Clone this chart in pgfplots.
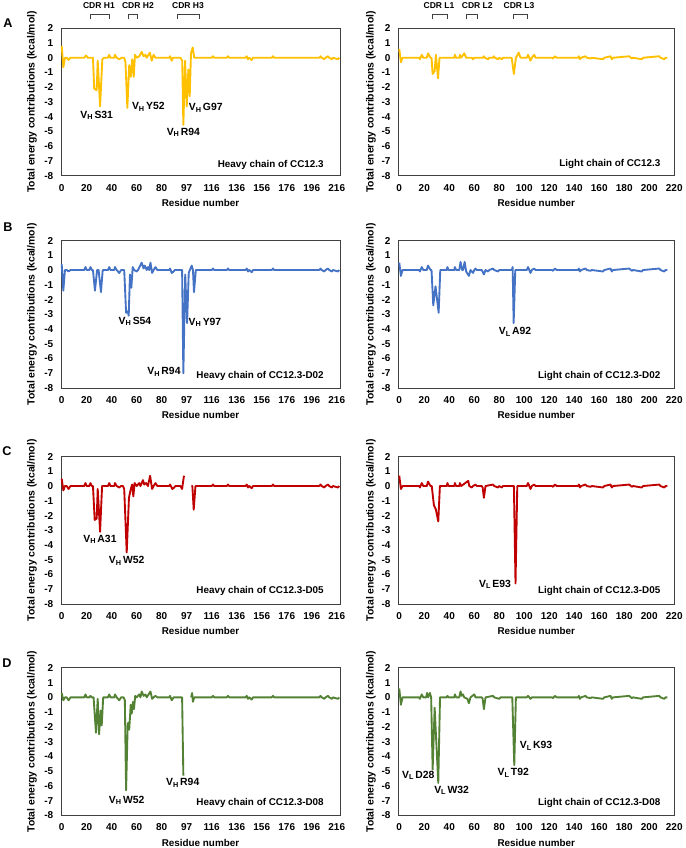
\documentclass[border=0pt]{standalone}
\usepackage{pgfplots}
\pgfplotsset{compat=1.18}
\usepackage{fontspec}
\setmainfont{Liberation Sans}
\definecolor{cy}{HTML}{FFC000}
\definecolor{cb}{HTML}{4472C4}
\definecolor{cr}{HTML}{C00000}
\definecolor{cg}{HTML}{548235}
\newcommand{\sub}[1]{\textsubscript{#1}\hspace{0.12em}}
\pgfplotsset{
 base/.style={scale only axis, height=110.6pt, ymin=-8, ymax=2,
   ytick={-8,-7,-6,-5,-4,-3,-2,-1,0,1,2},
   yticklabels={-8,-7,-6,-5,-4,-3,-2,-1,0,1,2},
   major tick length=0pt, tick style={draw=none},
   axis line style={black!75, line width=0.6pt},
   /pgf/number format/assume math mode=true,
   tick label style={font=\fontsize{7.5}{9}\selectfont\bfseries},
   xlabel={Residue number}, ylabel={Total energy contributions (kcal/mol)},
   clip=false, unbounded coords=jump,
   xticklabel style={anchor=center, yshift=-9pt},
   yticklabel style={anchor=east, xshift=-2.3pt},
   xlabel style={at={(axis description cs:0.5,-0.185)}, anchor=center, font=\fontsize{7.4}{9}\selectfont\bfseries},
   every axis plot/.append style={line width=1.4pt, line join=round, no marks},
   anchor=south west},
 heavy/.style={base, width=209.25pt, xmin=-0.56, xmax=222.6,
   xtick={0,20,40,60,80,100,120,140,160,180,200,220},
   xticklabels={0,20,40,60,80,97,116,136,156,176,196,216},
   ylabel style={at={(axis description cs:-0.104,0.5)}, anchor=center, font=\fontsize{7.8}{9}\selectfont\bfseries}},
 light/.style={base, width=207pt, xmin=-0.8, xmax=220,
   xtick={0,20,40,60,80,100,120,140,160,180,200,220},
   xticklabels={0,20,40,60,80,100,120,140,160,180,200,220},
   ylabel style={at={(axis description cs:-0.099,0.5)}, anchor=center, font=\fontsize{7.8}{9}\selectfont\bfseries}},
}
\newcommand{\htail}{(120,0) (121,0.1) (122,0) (132,0) (133,0.1) (134,0) (147,0) (148,0.1) (149,-0.1) (150,0) (152,-0.15) (153,0) (168,0) (169,0.1) (170,0) (206,0) (207,0.1) (208,0) (210,-0.1) (211,0) (213,0.1) (214,0) (216,-0.1) (217,0) (221,-0.1) (222,0)}
\newcommand{\ltail}{(122,0) (123,-0.05) (124.5,0.1) (126,0) (143,0) (143.7,0.1) (144.5,-0.1) (145.5,0) (149,0.1) (150,0) (153,-0.05) (154,0) (163,-0.1) (164,0) (169,0.1) (170,-0.1) (171,0) (184,0.1) (186,-0.05) (187,0) (194,-0.1) (195,0) (208,0.1) (209,0) (212,-0.1) (213,0) (214.5,0)}
\newcommand{\cdr}[4]{% x1 x2 textx label
 \draw[black!75, line width=0.5pt] (axis cs:#1,2.61) -- (axis cs:#1,2.95) -- (axis cs:#2,2.95) -- (axis cs:#2,2.61);
 \node[font=\fontsize{6.4}{7}\selectfont\bfseries] at (axis cs:#3,3.57) {#4};}
\tikzset{ann/.style={font=\fontsize{7.8}{9}\selectfont\bfseries}, chain/.style={anchor=east, font=\fontsize{7.4}{9}\selectfont\bfseries}}
\begin{document}
\begin{tikzpicture}[font=\fontsize{7.4}{9}\selectfont\bfseries]
\path[use as bounding box] (0,0) rectangle (513.75pt,636pt);
\node[font=\fontsize{9.5}{11}\selectfont\bfseries] at (6pt,618.75pt) {A};
\node[font=\fontsize{9.5}{11}\selectfont\bfseries] at (6pt,465.75pt) {B};
\node[font=\fontsize{9.5}{11}\selectfont\bfseries] at (5.25pt,297.75pt) {C};
\node[font=\fontsize{9.5}{11}\selectfont\bfseries] at (5.25pt,138.75pt) {D};

% ---------- A heavy
\begin{axis}[heavy, at={(45.75pt,504.2pt)}]
\addplot[cy] coordinates {(0,0.8) (1.3,-0.65) (2.6,0) (4,0) (5.5,-0.15) (7,0) (18,0) (19.5,0.15) (21,0) (25,0) (26,-2.1) (28,-2.2) (28.8,-0.2) (30.7,-3.3) (32.5,-0.1) (34,0) (37,0) (38,0.2) (39,0) (42,0) (42.6,0.2) (44,0) (46,-0.1) (48,0) (50,0) (51,-0.3) (52.5,-3.4) (54,-0.5) (55.2,-1.3) (56.4,-0.1) (57.6,-1.3) (58.6,0.2) (60,0) (62,0.1) (64,0.4) (65.5,0.1) (67,0.2) (68,0) (70.5,0.35) (72,-0.2) (73.5,0.2) (75,0) (86,0) (86.7,0.1) (88,-0.2) (89,0) (95,0) (96.4,-0.2) (97.3,-4.55) (98.7,-0.2) (100,-3.3) (101.3,-0.8) (102.4,-2.6) (103.4,0.3) (104.8,0.7) (106,0) \htail};
\node[ann] at (axis cs:28,-3.9) {V\sub{H}S31};
\node[ann] at (axis cs:69.3,-3.34) {V\sub{H}Y52};
\node[ann] at (axis cs:97.3,-5.07) {V\sub{H}R94};
\node[ann] at (axis cs:115.2,-3.41) {V\sub{H}G97};
\node[chain] at (axis cs:213.3,-7.3) {Heavy chain of CC12.3};
\cdr{22.6}{37.8}{29.8}{CDR H1}
\cdr{53}{60.2}{61}{CDR H2}
\cdr{92.2}{110}{101}{CDR H3}
\end{axis}

% ---------- A light
\begin{axis}[light, at={(298.7pt,504.2pt)}]
\addplot[cy] coordinates {(0,0.6) (1.3,-0.3) (2.6,0) (16,0) (16.5,-0.1) (18,0.2) (19.2,0) (22,0) (23,0.3) (25,0) (25.8,0) (26.7,-1.1) (28.3,-0.9) (29.3,0.2) (31,-1.4) (32.2,0) (44,0) (44.5,0.2) (45.5,0) (48,0) (48.5,0.2) (49.5,0) (52,0.3) (53.5,0) (58,0) (59,-0.1) (60,0) (67,0) (67.5,0.1) (68.5,0) (71,-0.1) (72,0) (75,0) (75.5,0.1) (76.5,0) (79,-0.1) (80,0) (82,-0.1) (83,0) (89.9,0) (91.7,-1.1) (93.3,0) (94,0.1) (95.5,0.35) (97,0) (102,0) (103,0.2) (104,0) (105,-0.2) (106,0) (108,0.2) (109,0) \ltail};
\node[chain] at (axis cs:212.6,-7.2) {Light chain of CC12.3};
\cdr{26.2}{38.2}{31.8}{CDR L1}
\cdr{53.4}{62.7}{62.4}{CDR L2}
\cdr{91}{102.2}{95.8}{CDR L3}
\end{axis}

% ---------- B heavy
\begin{axis}[heavy, at={(45.75pt,345pt)}]
\addplot[cb] coordinates {(0,0.4) (1.3,-1.4) (2.6,0) (4,0) (5.5,-0.1) (7,0) (18,0) (19,0.2) (20,0) (22,0) (23,0.2) (24,0) (25,0) (26.6,-1.4) (28.3,0) (29.5,0) (31.4,-1.5) (32.8,0) (37,0) (38,0.2) (39,0) (42,0) (42.6,0.2) (44,0) (46,-0.2) (47.5,0) (50,0) (51.5,-2.9) (52.8,-2.8) (53.6,-3.1) (54.6,-0.3) (55.7,-1.2) (56.8,0.2) (58,0) (60,-0.1) (61,0) (64,0.5) (65.5,0.1) (66.5,0.3) (68,0) (69,0.2) (70,0) (71,0.5) (72.3,-0.2) (73.5,0) (75,0.2) (76.5,0) (86,0) (86.7,0.1) (88,-0.2) (89.5,-0.1) (90.5,0) (96.3,0) (97.3,-7.0) (98.8,-0.3) (100.3,-3.6) (101.6,-0.2) (102.5,0) (104,0.3) (105,0) (105.8,-1.5) (107.3,0) \htail};
\node[ann] at (axis cs:58.6,-3.48) {V\sub{H}S54};
\node[ann] at (axis cs:114.6,-3.57) {V\sub{H}Y97};
\node[ann] at (axis cs:81.8,-6.9) {V\sub{H}R94};
\node[chain] at (axis cs:213.3,-7.2) {Heavy chain of CC12.3-D02};
\end{axis}

% ---------- B light
\begin{axis}[light, at={(298.7pt,345pt)}]
\addplot[cb] coordinates {(0,0.5) (1.3,-0.4) (2.6,0) (16,0) (16.5,-0.1) (18,0.2) (19.2,0) (22,0) (23,0.3) (25,0) (25.8,0) (27.2,-2.4) (29,-1.1) (31.5,-2.9) (32.8,0) (38,0) (38.5,0.2) (39.5,0) (44,0) (44.5,0.2) (45.5,0) (48,0) (49,0.55) (50.3,0) (51,0) (52.3,0.55) (53.5,-0.1) (55.7,-0.4) (57,0) (59,-0.2) (60,0) (61,0.1) (62,0) (66,0) (67.7,-0.3) (69,0) (71,-0.1) (72,0) (75,0.1) (76,0) (79,-0.1) (80,0) (90,0) (90.7,0.2) (91.5,-3.6) (92.8,0) (102,0) (103,0.2) (104,0) (105,-0.2) (106,0) (108,0.1) (109,0) \ltail};
\node[ann] at (axis cs:92.6,-4.2) {V\sub{L}A92};
\node[chain] at (axis cs:212.6,-7.2) {Light chain of CC12.3-D02};
\end{axis}

% ---------- C heavy
\begin{axis}[heavy, at={(45.75pt,183pt)}]
\addplot[cr] coordinates {(0,0.5) (1.3,-0.3) (2.6,0) (4,0) (5.5,-0.2) (7,0) (18,0) (19,0.2) (20,0) (22,0) (23,0.2) (24,0) (25,0) (26.4,-2.3) (28,-2.2) (28.8,-0.2) (30.7,-3.1) (32.3,0) (37,0) (38,0.2) (39,0) (42,0) (42.6,0.2) (44,0) (46,-0.1) (47.5,0) (49,0) (50,-0.2) (52,-4.5) (53.8,-0.8) (55,-0.3) (56.3,0.1) (57.3,-0.7) (58.3,0.2) (60,0) (62,0.2) (63,0) (65,0.4) (66,0.1) (67.5,0.2) (69,0) (70.7,0.7) (72.3,-0.2) (73.5,0) (75,0.2) (76.5,0) (86,0) (86.7,0.1) (88.5,-0.2) (90,-0.1) (91,0) (95,0) (96.3,-0.2) (97.8,0.7) (100,nan) (103.7,0) (104.5,0) (105.6,-1.6) (107,0) \htail};
\node[ann] at (axis cs:30.6,-3.6) {V\sub{H}A31};
\node[ann] at (axis cs:52,-5.08) {V\sub{H}W52};
\node[chain] at (axis cs:213.3,-7.1) {Heavy chain of CC12.3-D05};
\end{axis}

% ---------- C light
\begin{axis}[light, at={(298.7pt,183pt)}]
\addplot[cr] coordinates {(0,0.7) (1.3,-0.2) (2.6,0) (16,0) (16.5,-0.1) (18,0.2) (19.2,0) (22,0) (23,0.3) (25,0) (26,0) (27.7,-1.3) (29.3,-1.6) (31.2,-2.4) (32.5,0) (38,0) (38.5,0.2) (39.5,0) (44,0) (44.5,0.2) (45.5,0) (48,0) (48.5,0.2) (49.5,0) (55.2,0.35) (56,0) (58,-0.1) (59,0) (61,0.1) (62,0) (66,0) (66.7,-0.1) (67.7,-0.8) (69,0) (75,0.1) (76,0) (79,-0.1) (80,0) (82,-0.1) (83,0) (91.7,0) (93,-6.6) (94.4,0) (102,0) (103,0.2) (104,0) (105,-0.2) (106,0) (108,0.1) (109,0) \ltail};
\node[ann] at (axis cs:76.6,-6.65) {V\sub{L}E93};
\node[chain] at (axis cs:212.6,-7.15) {Light chain of CC12.3-D05};
\end{axis}

% ---------- D heavy
\begin{axis}[heavy, at={(45.75pt,24.5pt)}]
\addplot[cg] coordinates {(0,0.3) (1.3,-0.2) (2.6,0) (4,0) (5.5,-0.2) (7,0) (18,0) (19,0.2) (20,0) (22,0) (23,0.1) (24,0) (25.5,0) (27.4,-2.4) (28.8,-0.1) (29.9,-2.5) (31.2,-0.9) (32,-1.9) (33.2,0) (37,0) (38,0.2) (39,0) (42,0) (42.6,0.2) (44,0) (46,-0.2) (47.5,0) (49.5,0) (50.5,-0.2) (51.5,-6.3) (52.8,-1.8) (53.4,-1.7) (54,-2.2) (55.2,-0.5) (56,-1.1) (57,-0.3) (57.8,-0.8) (58.8,0.1) (60,0) (62,0.2) (63,0) (64,0.4) (65.5,0.1) (67,0.2) (68,0) (71,0.4) (72.3,-0.1) (73.5,0) (75,0.1) (76.5,0) (86,0) (86.7,0.1) (88,-0.2) (89.5,0) (96.3,0) (97.3,-5.3) (100,nan) (103.5,0) (104.3,0.3) (105,-0.3) (106,0) \htail};
\node[ann] at (axis cs:52,-6.97) {V\sub{H}W52};
\node[ann] at (axis cs:96.8,-5.8) {V\sub{H}R94};
\node[chain] at (axis cs:213.3,-7.15) {Heavy chain of CC12.3-D08};
\end{axis}

% ---------- D light
\begin{axis}[light, at={(298.7pt,24.5pt)}]
\addplot[cg] coordinates {(0,0.6) (1.3,-0.5) (2.6,0) (16,0) (16.5,-0.1) (18,0.2) (19.2,0) (21.5,0) (22.2,0.3) (23,0) (24.5,0.3) (25.5,0) (26.7,-4.9) (28.3,-0.7) (31.2,-5.8) (32.6,0) (38,0) (38.5,0.1) (39.5,0) (44,0) (44.5,0.2) (45.5,0) (48,0) (49,0.4) (50,0.1) (51,0.2) (52,0) (54.5,-0.1) (55.7,-0.4) (57,0) (60,0.2) (61,0) (66,0) (66.7,-0.1) (67.7,-0.8) (69,0) (75,0.1) (76,0) (80,-0.1) (81,0) (90.4,0) (92,-4.6) (93.3,0) (102,0) (103,0.1) (104,0) (105,-0.1) (106,0) \ltail};
\node[ann] at (axis cs:15.2,-5.3) {V\sub{L}D28};
\node[ann] at (axis cs:41.9,-6.3) {V\sub{L}W32};
\node[ann] at (axis cs:91.2,-5.13) {V\sub{L}T92};
\node[ann] at (axis cs:109.4,-3.28) {V\sub{L}K93};
\node[chain] at (axis cs:212.6,-7.15) {Light chain of CC12.3-D08};
\end{axis}
\end{tikzpicture}
\end{document}
